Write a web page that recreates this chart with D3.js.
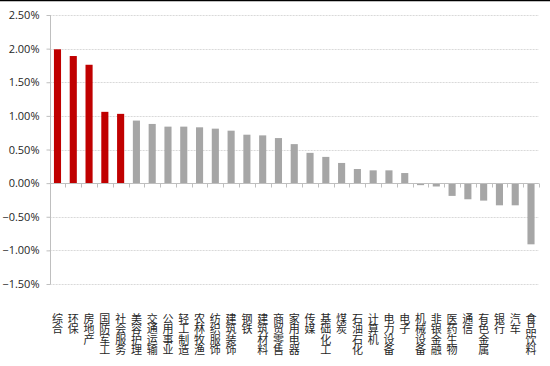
<!DOCTYPE html>
<html><head><meta charset="utf-8">
<script src="https://cdn.jsdelivr.net/npm/d3@7"></script>
<style>
html,body{margin:0;padding:0;background:#fff;}
svg{display:block;font-family:"Noto Sans CJK SC","Noto Sans",sans-serif;}
</style></head>
<body>
<svg id="chart" width="550" height="366"></svg>
<script>
const categories = ["综合","环保","房地产","国防军工","社会服务","美容护理","交通运输","公用事业","轻工制造","农林牧渔","纺织服饰","建筑装饰","钢铁","建筑材料","商贸零售","家用电器","传媒","基础化工","煤炭","石油石化","计算机","电力设备","电子","机械设备","非银金融","医药生物","通信","有色金属","银行","汽车","食品饮料"];
const values = [1.99,1.89,1.76,1.06,1.03,0.93,0.88,0.84,0.84,0.83,0.81,0.78,0.72,0.71,0.67,0.58,0.45,0.39,0.30,0.21,0.19,0.19,0.15,-0.03,-0.05,-0.19,-0.24,-0.26,-0.33,-0.33,-0.91];
const highlightCount = 5;
const yTicks = [-1.5,-1.0,-0.5,0,0.5,1.0,1.5,2.0,2.5];

(function(){
const svg = d3.select("#chart");
const mLeft = 49.6, mRight = 538.9, mTop = 15, mBottom = 284;

svg.append("line").attr("x1",0).attr("x2",550).attr("y1",0.5).attr("y2",0.5).attr("stroke","#000").attr("stroke-width",1.5);

const x = d3.scaleBand().domain(categories).range([mLeft,mRight]).paddingInner(0.55).paddingOuter(0.275);
const y = d3.scaleLinear().domain([-1.5,2.5]).range([mBottom,mTop]);

// grid
svg.append("g").selectAll("line").data(yTicks.filter(d=>d!==0)).join("line")
  .attr("x1",mLeft).attr("x2",mRight)
  .attr("y1",d=>Math.round(y(d))+0.5).attr("y2",d=>Math.round(y(d))+0.5)
  .attr("stroke","#d9d9d9").attr("stroke-width",1).attr("stroke-dasharray","2,1");

// bars
svg.append("g").selectAll("rect").data(categories).join("rect")
  .attr("x",d=>x(d))
  .attr("width",x.bandwidth())
  .attr("y",(d,i)=>y(Math.max(0,values[i])))
  .attr("height",(d,i)=>Math.abs(y(values[i])-y(0)))
  .attr("fill",(d,i)=>i<highlightCount?"#c00000":"#a6a6a6");

// y axis
const yAxis = d3.axisLeft(y).tickValues(yTicks).tickSize(4).tickPadding(7)
  .tickFormat(d=>d3.format(".2f")(d)+"%");
const gy = svg.append("g").attr("transform",`translate(${Math.round(mLeft)+0.5},0)`).call(yAxis);
gy.select(".domain").attr("stroke","#bfbfbf").attr("d",`M0,${y(2.5)}V${y(-1.5)}`);
gy.selectAll(".tick line").attr("stroke","#bfbfbf");
gy.selectAll(".tick text").attr("fill","#262626").style("font-size","11px").style("font-family","'Open Sans','Noto Sans',sans-serif");

// x axis at zero
const zeroY = Math.round(y(0))+0.5;
svg.append("line").attr("x1",mLeft).attr("x2",mRight).attr("y1",zeroY).attr("y2",zeroY).attr("stroke","#bfbfbf");
const step = x.step();
const bounds = d3.range(categories.length+1).map(i=>mLeft+i*step);
svg.append("g").selectAll("line").data(bounds).join("line")
  .attr("x1",d=>Math.round(d)+0.5).attr("x2",d=>Math.round(d)+0.5)
  .attr("y1",zeroY).attr("y2",zeroY+4).attr("stroke","#bfbfbf");

// category labels vertical (upright characters stacked top to bottom)
svg.append("g").selectAll("text").data(categories).join("text")
  .attr("x",d=>x(d)+x.bandwidth()/2)
  .attr("y",313)
  .attr("text-anchor","start")
  .attr("fill","#262626")
  .style("font-size","11px")
  .style("writing-mode","vertical-rl")
  .style("text-orientation","upright")
  .style("letter-spacing","-0.5px")
  .text(d=>d);
})();
</script>
</body></html>
